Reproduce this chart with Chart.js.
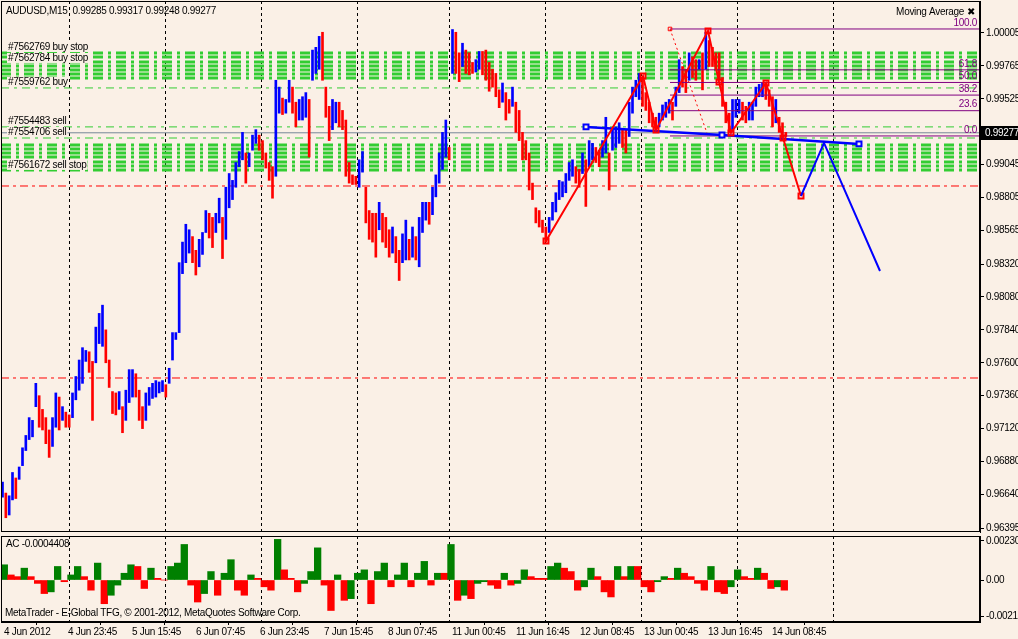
<!DOCTYPE html>
<html>
<head>
<title>AUDUSD,M15</title>
<script src="https://cdn.jsdelivr.net/npm/chart.js"></script>
<style>
  body { margin: 0; background: #faf0e6; }
  canvas { display: block; }
</style>
</head>
<body>
<canvas id="main" width="1018" height="534"></canvas>
<canvas id="ac" width="1018" height="105"></canvas>
<script>
// price readings, one every 50 minutes (M15 bars), high / low
const highs = [
  0.9673, 0.9665, 0.9663, 0.9680, 0.9676, 0.9684, 0.9698, 0.9707, 0.9720, 0.9718,
  0.9745, 0.9736, 0.9726, 0.9720, 0.9711, 0.9720, 0.9738, 0.9735, 0.9728, 0.9724,
  0.9722, 0.9738, 0.9750, 0.9762, 0.9771, 0.9769, 0.9768, 0.9761, 0.9786, 0.9796,
  0.9802, 0.9784, 0.9762, 0.9739, 0.9738, 0.9739, 0.9728, 0.9740, 0.9755, 0.9755,
  0.9752, 0.9740, 0.9728, 0.9738, 0.9742, 0.9745, 0.9747, 0.9746, 0.9747, 0.9744,
  0.9756, 0.9782, 0.9782, 0.9833, 0.9848, 0.9861, 0.9857, 0.9852, 0.9842, 0.9850,
  0.9855, 0.9871, 0.9869, 0.9866, 0.9869, 0.9880, 0.9866, 0.9888, 0.9898, 0.9893,
  0.9906, 0.9914, 0.9928, 0.9913, 0.9913, 0.9926, 0.9930, 0.9926, 0.9922, 0.9913,
  0.9906, 0.9903, 0.9966, 0.9961, 0.9953, 0.9952, 0.9966, 0.9961, 0.9950, 0.9952,
  0.9954, 0.9957, 0.9952, 0.9988, 0.9990, 0.9998, 1.0001, 0.9961, 0.9947, 0.9952,
  0.9950, 0.9950, 0.9944, 0.9937, 0.9906, 0.9897, 0.9896, 0.9908, 0.9914, 0.9888,
  0.9871, 0.9869, 0.9869, 0.9877, 0.9869, 0.9866, 0.9857, 0.9859, 0.9852, 0.9842,
  0.9854, 0.9864, 0.9850, 0.9859, 0.9852, 0.9866, 0.9877, 0.9877, 0.9877, 0.9888,
  0.9897, 0.9913, 0.9928, 0.9937, 0.9917, 1.0003, 1.0001, 0.9986, 0.9993, 0.9988,
  0.9986, 0.9979, 0.9981, 0.9987, 0.9987, 0.9988, 0.9979, 0.9974, 0.9971, 0.9959,
  0.9964, 0.9957, 0.9952, 0.9961, 0.9950, 0.9944, 0.9928, 0.9922, 0.9913, 0.9891,
  0.9873, 0.9871, 0.9864, 0.9859, 0.9866, 0.9877, 0.9884, 0.9893, 0.9892, 0.9898,
  0.9906, 0.9908, 0.9903, 0.9901, 0.9913, 0.9908, 0.9922, 0.9920, 0.9917, 0.9915,
  0.9922, 0.9939, 0.9913, 0.9930, 0.9932, 0.9935, 0.9930, 0.9930, 0.9950, 0.9961,
  0.9966, 0.9971, 0.9968, 0.9957, 0.9950, 0.9942, 0.9939, 0.9942, 0.9948, 0.9950,
  0.9952, 0.9950, 0.9961, 0.9981, 0.9976, 0.9974, 0.9986, 0.9983, 0.9981, 0.9981,
  0.9986, 1.0001, 0.9995, 0.9990, 0.9986, 0.9986, 0.9968, 0.9950, 0.9942, 0.9952,
  0.9952, 0.9952, 0.9950, 0.9947, 0.9950, 0.9950, 0.9961, 0.9963, 0.9964, 0.9964,
  0.9959, 0.9954, 0.9952, 0.9939, 0.9935, 0.9928
];
const lows = [
  0.9662, 0.9647, 0.9649, 0.9660, 0.9661, 0.9675, 0.9685, 0.9696, 0.9704, 0.9706,
  0.9728, 0.9713, 0.9711, 0.9701, 0.9691, 0.9699, 0.9713, 0.9711, 0.9718, 0.9713,
  0.9713, 0.9720, 0.9733, 0.9740, 0.9745, 0.9761, 0.9753, 0.9718, 0.9760, 0.9774,
  0.9772, 0.9760, 0.9742, 0.9723, 0.9722, 0.9726, 0.9709, 0.9718, 0.9731, 0.9735,
  0.9735, 0.9718, 0.9712, 0.9718, 0.9729, 0.9734, 0.9735, 0.9738, 0.9739, 0.9735,
  0.9745, 0.9762, 0.9777, 0.9782, 0.9825, 0.9833, 0.9840, 0.9833, 0.9824, 0.9830,
  0.9839, 0.9855, 0.9851, 0.9844, 0.9855, 0.9862, 0.9836, 0.9850, 0.9873, 0.9879,
  0.9888, 0.9903, 0.9908, 0.9891, 0.9903, 0.9915, 0.9920, 0.9915, 0.9908, 0.9902,
  0.9893, 0.9880, 0.9896, 0.9942, 0.9941, 0.9942, 0.9950, 0.9942, 0.9932, 0.9937,
  0.9937, 0.9939, 0.9910, 0.9966, 0.9971, 0.9974, 0.9966, 0.9939, 0.9922, 0.9930,
  0.9935, 0.9932, 0.9930, 0.9896, 0.9891, 0.9890, 0.9890, 0.9888, 0.9899, 0.9862,
  0.9850, 0.9848, 0.9837, 0.9857, 0.9848, 0.9844, 0.9837, 0.9840, 0.9833, 0.9820,
  0.9833, 0.9835, 0.9835, 0.9837, 0.9835, 0.9830, 0.9855, 0.9864, 0.9861, 0.9868,
  0.9881, 0.9891, 0.9901, 0.9910, 0.9908, 0.9971, 0.9971, 0.9965, 0.9976, 0.9971,
  0.9970, 0.9971, 0.9972, 0.9974, 0.9970, 0.9966, 0.9958, 0.9961, 0.9954, 0.9946,
  0.9950, 0.9937, 0.9942, 0.9947, 0.9928, 0.9922, 0.9908, 0.9908, 0.9886, 0.9879,
  0.9862, 0.9859, 0.9855, 0.9848, 0.9855, 0.9864, 0.9870, 0.9879, 0.9881, 0.9884,
  0.9893, 0.9896, 0.9891, 0.9888, 0.9898, 0.9874, 0.9903, 0.9908, 0.9906, 0.9903,
  0.9910, 0.9913, 0.9886, 0.9915, 0.9917, 0.9920, 0.9917, 0.9913, 0.9925, 0.9942,
  0.9954, 0.9952, 0.9947, 0.9944, 0.9935, 0.9932, 0.9930, 0.9932, 0.9937, 0.9939,
  0.9942, 0.9937, 0.9947, 0.9957, 0.9961, 0.9957, 0.9966, 0.9968, 0.9966, 0.9974,
  0.9959, 0.9974, 0.9976, 0.9976, 0.9974, 0.9966, 0.9947, 0.9935, 0.9928, 0.9930,
  0.9939, 0.9942, 0.9937, 0.9935, 0.9937, 0.9937, 0.9947, 0.9954, 0.9954, 0.9952,
  0.9947, 0.9932, 0.9935, 0.9928, 0.9922, 0.9925
];
const readingMinutes = 50;

// Accelerator Oscillator, one reading every 100 minutes
const acValues = [
  0.0009, 0.0003, 0.0002, 0.0007, 0.0002, -0.0002, -0.0008, -0.0007, 0.0008, -0.0001,
  0.0003, 0.0008, 0.0002, -0.0006, 0.0010, -0.0014, -0.0009, -0.0003, 0.0004, 0.0009,
  0.0008, -0.0005, 0.0007, 0.0001, 0.0000, 0.0008, 0.0010, 0.0021, -0.0003, -0.0013,
  -0.0008, 0.0005, -0.0009, 0.0004, 0.0012, -0.0006, -0.0009, 0.0003, 0.0001, -0.0004,
  -0.0006, 0.0024, 0.0006, 0.0001, -0.0007, -0.0002, 0.0005, 0.0019, -0.0003, -0.0018,
  0.0003, -0.0012, -0.0011, 0.0004, 0.0006, -0.0014, 0.0005, 0.0010, -0.0004, 0.0003,
  0.0010, -0.0004, 0.0004, 0.0011, -0.0003, 0.0004, 0.0004, 0.0021, -0.0012, -0.0009,
  -0.0011, -0.0002, -0.0001, -0.0003, -0.0005, 0.0004, -0.0003, -0.0002,
  0.0006, 0.0002, 0.0001, 0.0001, 0.0008, 0.0010, 0.0007, 0.0005, -0.0006, -0.0004,
  0.0007, 0.0002, -0.0007, -0.0010, 0.0008, 0.0002, 0.0008, 0.0008, -0.0004, -0.0007,
  -0.0001, 0.0002, 0.0001, 0.0007, 0.0004, 0.0002, -0.0002, -0.0006, 0.0008, -0.0007,
  -0.0008, -0.0004, 0.0006, 0.0002, 0.0001, 0.0007, 0.0004, -0.0005, -0.0004, -0.0006
];
const acMinutes = 100;
const acLast = '-0.0004408';

// axes (x in M15 bars from the left edge)
const timeTicks = [3, 67, 131, 195, 259, 323, 387, 451, 515, 579, 643, 707, 771];
const timeLabels = ['4 Jun 2012', '4 Jun 23:45', '5 Jun 15:45', '6 Jun 07:45', '6 Jun 23:45',
  '7 Jun 15:45', '8 Jun 07:45', '11 Jun 00:45', '11 Jun 16:45', '12 Jun 08:45',
  '13 Jun 00:45', '13 Jun 16:45', '14 Jun 08:45'];
const daySeparators = [68, 164, 260, 356, 448, 544, 640, 736, 832];
const priceTickLabels = ['1.00005', '0.99765', '0.99525', '0.99045', '0.98805', '0.98565',
  '0.98320', '0.98080', '0.97840', '0.97600', '0.97360', '0.97120', '0.96880', '0.96640', '0.96395'];
const acTicks = [0.002305, 0, -0.00215];
const acTickLabels = ['0.002305', '0.00', '-0.00215'];

const symbol = 'AUDUSD,M15';
const lastOHLC = ['0.99285', '0.99317', '0.99248', '0.99277'];
const bid = 0.99277;

// orders and levels
const orderNames = ['#7562769 buy stop', '#7562784 buy stop', '#7559762 buy',
  '#7554483 sell', '#7554706 sell', '#7561672 sell stop'];
const orderPrices = [0.99859, 0.99779, 0.99604, 0.99320, 0.99239, 0.98999];
const buyStopBand = [0.99859, 0.99830, 0.99794, 0.99764, 0.99735, 0.99706, 0.99677];
const sellStopBand = [0.99188, 0.99159, 0.99130, 0.99101, 0.99064, 0.99035, 0.99006];
const openLevels = [0.99604, 0.99320, 0.99239];
const stopLevels = [0.98889, 0.97489];

// fibonacci retracement
const fibBars = [669, 707];
const fibPrices = [1.00034, 0.99254];
const fibLevels = [0, 23.6, 38.2, 50.0, 61.8, 100.0];

// drawn lines
const zigBars = [545, 642, 655, 707, 718, 730, 765, 782, 800];
const zigPrices = [0.98488, 0.99691, 0.99298, 1.00020, 0.99648, 0.99276, 0.99640, 0.99239, 0.98816];
const trendBars = [585, 721, 858];
const trendPrices = [0.99320, 0.99261, 0.99196];
const forecastBars = [800, 823, 879];
const forecastPrices = [0.98816, 0.99203, 0.98269];

const bg = '#faf0e6';
const family = '"Liberation Sans", sans-serif';
const font = { family, size: 10 };
const cssFont = '10px ' + family;
Chart.defaults.font.family = family;
Chart.defaults.font.size = 10;
Chart.defaults.color = '#000';

const xMax = 979;
const pts = (xs, ys) => xs.map((x, i) => ({ x, y: ys[i] }));
const hline = (price, color, width, dash, order, from = 0) => ({
  type: 'line', data: [{ x: from, y: price }, { x: xMax, y: price }],
  borderColor: color, borderWidth: width, borderDash: dash, pointRadius: 0, order
});
const fibPrice = lvl => fibPrices[1] + (fibPrices[0] - fibPrices[1]) * lvl / 100;
const noPad = s => { s.paddingTop = 0; s.paddingBottom = 0; s.paddingLeft = 0; s.paddingRight = 0; };

const bars = highs.map((h, i) => ({ x: i * readingMinutes / 15 + 1.5, y: [lows[i], h] }));
const barColors = highs.map((h, i) => {
  if (i === 0) return '#0000ff';
  return (h + lows[i]) >= (highs[i - 1] + lows[i - 1]) ? '#0000ff' : '#ff0000';
});

// slightly tighter text, closer to the terminal's font
const tightText = {
  id: 'tightText',
  beforeDraw(chart) { chart.ctx.letterSpacing = '-0.3px'; }
};

function separators(chart) {
  const { ctx, chartArea: a, scales: { x } } = chart;
  ctx.save();
  ctx.strokeStyle = '#000';
  ctx.lineWidth = 1;
  ctx.setLineDash([3, 3]);
  daySeparators.forEach(v => {
    const px = Math.round(x.getPixelForValue(v)) + 0.5;
    ctx.beginPath();
    ctx.moveTo(px, a.top);
    ctx.lineTo(px, a.bottom);
    ctx.stroke();
  });
  ctx.restore();
}

function frame(chart) {
  const { ctx, chartArea: a } = chart;
  ctx.save();
  ctx.strokeStyle = '#000';
  ctx.lineWidth = 1;
  ctx.strokeRect(a.left + 0.5, a.top + 0.5, a.right - a.left - 1, a.bottom - a.top - 1);
  ctx.restore();
}

const mainDecor = {
  id: 'mainDecor',
  beforeDatasetsDraw: separators,
  afterDraw(chart) {
    const { ctx, chartArea: a, scales: { y } } = chart;
    ctx.save();
    ctx.font = cssFont;
    ctx.textBaseline = 'middle';
    // order labels
    orderNames.forEach((name, i) => {
      const py = y.getPixelForValue(orderPrices[i]) - 6;
      const w = ctx.measureText(name).width;
      ctx.fillStyle = bg;
      ctx.fillRect(7, py - 5, w + 2, 10);
      ctx.fillStyle = '#000';
      ctx.fillText(name, 8, py);
    });
    // fibonacci level texts
    ctx.fillStyle = '#800080';
    ctx.textAlign = 'right';
    fibLevels.forEach(l => {
      ctx.fillText(l.toFixed(1), a.right - 3, y.getPixelForValue(fibPrice(l)) - 6);
    });
    // header
    ctx.textAlign = 'left';
    ctx.fillStyle = '#000';
    ctx.fillText(symbol + '  ' + lastOHLC.join(' '), 6, 11);
    ctx.textAlign = 'right';
    ctx.fillText('Moving Average', a.right - 16, 12);
    ctx.font = 'bold 10px "DejaVu Sans"';
    ctx.fillText('\u2716', a.right - 5, 12);
    ctx.restore();
    frame(chart);
    // bid box on the price axis
    const by = Math.round(y.getPixelForValue(bid));
    ctx.save();
    ctx.fillStyle = '#000';
    ctx.fillRect(a.right + 1, by - 7, 40, 14);
    ctx.fillStyle = '#fff';
    ctx.font = cssFont;
    ctx.textBaseline = 'middle';
    ctx.fillText(bid.toFixed(5), a.right + 5, by);
    ctx.restore();
  }
};

new Chart(document.getElementById('main'), {
  type: 'bar',
  data: {
    datasets: [
      ...buyStopBand.concat(sellStopBand).map(p => hline(p, '#32cd32', 3, [10, 5, 3, 5], 20)),
      ...openLevels.map(p => hline(p, '#32cd32', 1, [8, 5, 3, 5], 19)),
      ...stopLevels.map(p => hline(p, '#ff0000', 1, [8, 4, 3, 4], 19)),
      hline(bid, '#778899', 1, [], 18),
      {
        type: 'bar', data: bars, backgroundColor: barColors, barThickness: 2,
        grouped: false, borderWidth: 0, order: 10
      },
      ...fibLevels.map(l => hline(fibPrice(l), '#800080', 1, [], 5, fibBars[0])),
      {
        type: 'line', data: pts(fibBars, fibPrices), borderColor: '#ff0000', borderWidth: 1,
        borderDash: [2, 3], pointStyle: 'rect', pointRadius: [2.5, 0], pointBorderWidth: 1,
        pointBorderColor: '#ff0000', pointBackgroundColor: 'rgba(0,0,0,0)', order: 4
      },
      {
        type: 'line', data: pts(trendBars, trendPrices), borderColor: '#0000ff', borderWidth: 2.5,
        pointStyle: 'rect', pointRadius: 3.5, pointBorderWidth: 2, pointBorderColor: '#0000ff',
        pointBackgroundColor: bg, order: 3
      },
      {
        type: 'line', data: pts(zigBars, zigPrices), borderColor: '#ff0000', borderWidth: 2,
        pointStyle: 'rect', pointRadius: 3.5, pointBorderWidth: 2, pointBorderColor: '#ff0000',
        pointBackgroundColor: 'rgba(0,0,0,0)', order: 2
      },
      {
        type: 'line', data: pts(forecastBars, forecastPrices), borderColor: '#0000ff', borderWidth: 2,
        pointRadius: 0, order: 1
      }
    ]
  },
  options: {
    responsive: false,
    animation: false,
    events: [],
    layout: { autoPadding: false, padding: { left: 1, top: 1, right: 0, bottom: 2 } },
    plugins: { legend: { display: false }, tooltip: { enabled: false } },
    scales: {
      x: { type: 'linear', min: 0, max: xMax, offset: false, display: false },
      y: {
        position: 'right', min: 0.96366, max: 1.00238,
        afterFit: s => { s.width = 38; noPad(s); },
        afterBuildTicks: s => { s.ticks = priceTickLabels.map(v => ({ value: parseFloat(v) })); },
        ticks: { callback: (v, i) => priceTickLabels[i], padding: 2, color: '#000', font },
        grid: { drawOnChartArea: false, tickLength: 4, tickColor: '#000' },
        border: { color: '#000' }
      }
    }
  },
  plugins: [tightText, mainDecor]
});

const acDecor = {
  id: 'acDecor',
  beforeDatasetsDraw: separators,
  afterDraw(chart) {
    const { ctx, chartArea: a } = chart;
    ctx.save();
    ctx.font = cssFont;
    ctx.textBaseline = 'middle';
    ctx.fillStyle = '#000';
    ctx.fillText('AC ' + acLast, 6, a.top + 8);
    ctx.fillText('MetaTrader - E-Global TFG, \u00a9 2001-2012, MetaQuotes Software Corp.', 5, a.bottom - 9);
    ctx.restore();
    frame(chart);
  }
};

new Chart(document.getElementById('ac'), {
  type: 'bar',
  data: {
    datasets: [{
      data: acValues.map((v, i) => ({ x: i * acMinutes / 15 + 3.3, y: v })),
      backgroundColor: acValues.map((v, i) => (i === 0 || v > acValues[i - 1]) ? '#008000' : '#ff0000'),
      barPercentage: 1, categoryPercentage: 1, grouped: false, borderWidth: 0
    }]
  },
  options: {
    responsive: false,
    animation: false,
    events: [],
    layout: { autoPadding: false, padding: { left: 1, top: 2, right: 0, bottom: 0 } },
    plugins: { legend: { display: false }, tooltip: { enabled: false } },
    scales: {
      x: {
        type: 'linear', min: 0, max: xMax, offset: false,
        afterFit: noPad,
        afterBuildTicks: s => { s.ticks = timeTicks.map(v => ({ value: v })); },
        ticks: { callback: (v, i) => timeLabels[i], align: 'start', autoSkip: false, maxRotation: 0, padding: 1, color: '#000', font },
        grid: { drawOnChartArea: false, tickLength: 3, tickColor: '#000' },
        border: { color: '#000' }
      },
      y: {
        position: 'right', min: -0.00248, max: 0.0026,
        afterFit: s => { s.width = 38; noPad(s); },
        afterBuildTicks: s => { s.ticks = acTicks.map(v => ({ value: v })); },
        ticks: { callback: (v, i) => acTickLabels[i], padding: 2, color: '#000', font },
        grid: { drawOnChartArea: false, tickLength: 4, tickColor: '#000' },
        border: { color: '#000' }
      }
    }
  },
  plugins: [tightText, acDecor]
});
</script>
</body>
</html>
